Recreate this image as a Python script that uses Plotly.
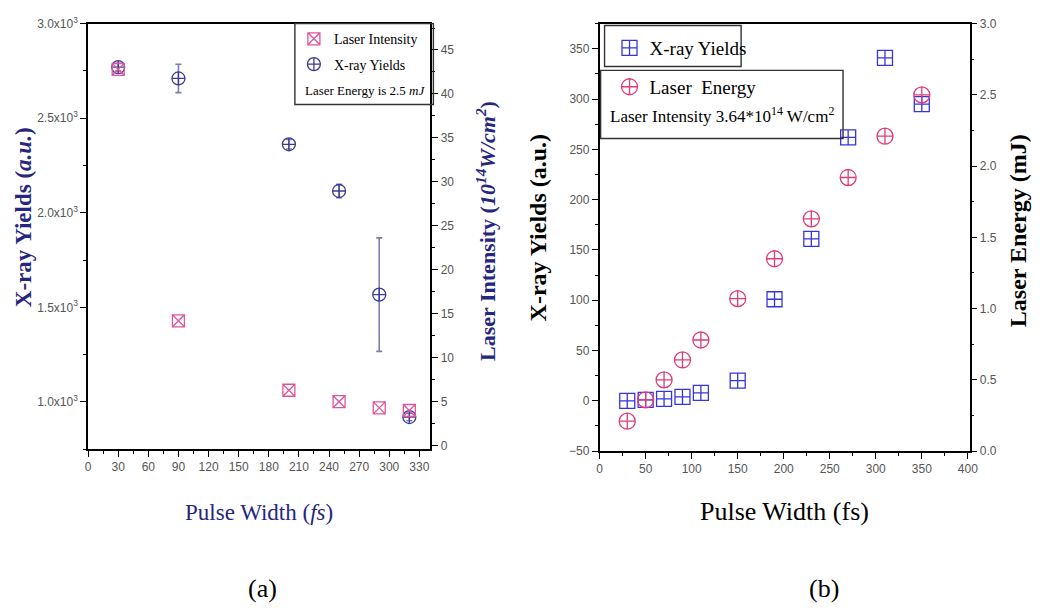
import plotly.graph_objects as go

# ---------------- data ----------------
# panel (a)
pulse_a = [30, 90, 200, 250, 290, 320]
xray_a = [2770, 2710, 2362, 2115, 1567, 920]
xray_a_err = [20, 75, 25, 35, 300, 20]
intensity_a = [42.8, 14.2, 6.3, 5.0, 4.3, 4.0]
xticks_a = list(range(0, 331, 30))
yticks_a = [1000, 1500, 2000, 2500, 3000]
yticktext_a = ["1.0x10<sup>3</sup>", "1.5x10<sup>3</sup>", "2.0x10<sup>3</sup>",
               "2.5x10<sup>3</sup>", "3.0x10<sup>3</sup>"]

# panel (b)
pulse_b = [30, 50, 70, 90, 110, 150, 190, 230, 270, 310, 350]
xray_b = [0, 1, 2, 4, 8, 20, 101, 161, 262, 341, 295]
energy_b = [0.21, 0.36, 0.50, 0.64, 0.78, 1.07, 1.35, 1.63, 1.92, 2.21, 2.50]

W, H = 1040, 612
def px(x):
    return x / W
def py(y):
    return 1 - y / H

SERIF = "Liberation Serif, Times New Roman, serif"
NARROW = "Liberation Sans Narrow, Arial Narrow, Liberation Sans, sans-serif"
NAVY = "#26267e"
PINK_A = "#e0559c"
BLUE_A = "#3d3d95"
BLUE_B = "#3535e0"
PINK_B = "#e03c7c"
TICKFONT = dict(family=NARROW, size=12, color="#555555")

fig = go.Figure()

# panel (a) traces
fig.add_trace(go.Scatter(
    x=pulse_a, y=intensity_a, mode="markers", name="Laser Intensity",
    marker=dict(symbol="square-x-open", size=12, color=PINK_A, line=dict(width=1.3)),
    xaxis="x", yaxis="y2", legend="legend"))
fig.add_trace(go.Scatter(
    x=pulse_a, y=xray_a, mode="markers", name="X-ray Yields",
    error_y=dict(type="data", array=xray_a_err, color="#7c7cab", thickness=1.6, width=3),
    marker=dict(symbol="circle-cross-open", size=13, color=BLUE_A, line=dict(width=1.3)),
    xaxis="x", yaxis="y", legend="legend2"))

# panel (b) traces
fig.add_trace(go.Scatter(
    x=pulse_b, y=xray_b, mode="markers", name="X-ray Yields",
    marker=dict(symbol="square-cross-open", size=15, color=BLUE_B, line=dict(width=1.3)),
    xaxis="x2", yaxis="y3", legend="legend3"))
fig.add_trace(go.Scatter(
    x=pulse_b, y=energy_b, mode="markers", name="Laser  Energy",
    marker=dict(symbol="circle-cross-open", size=16, color=PINK_B, line=dict(width=1.3)),
    xaxis="x2", yaxis="y4", legend="legend4"))

axline = dict(showline=True, linecolor="black", linewidth=1.6, showgrid=False,
              zeroline=False, tickcolor="black", tickwidth=1.4, tickfont=TICKFONT)

dom_a_x = [px(86), px(432)]
dom_a_y = [py(452), py(15)]
dom_b_x = [px(603), px(977)]
dom_b_y = [py(454), py(15)]

leg_common = dict(bgcolor="rgba(0,0,0,0)", borderwidth=0, xanchor="left",
                  yanchor="middle", itemsizing="trace")

fig.update_layout(
    width=W, height=H, margin=dict(l=0, r=0, t=0, b=0),
    paper_bgcolor="white", plot_bgcolor="white",
    xaxis=dict(domain=dom_a_x, anchor="y", range=[0, 341], tickmode="array",
               tickvals=xticks_a, ticks="outside", ticklen=6,
               minor=dict(dtick=15, tick0=0, ticks="outside", ticklen=3, tickcolor="black"),
               mirror=True, **axline),
    xaxis3=dict(domain=dom_a_x, anchor="y", overlaying="x", side="top", range=[0, 341],
                tickmode="linear", tick0=0, dtick=30, ticks="inside", ticklen=6,
                showticklabels=False, showline=False, showgrid=False, zeroline=False,
                tickcolor="black", tickwidth=1.4),
    yaxis=dict(domain=dom_a_y, anchor="x", range=[750, 3000], tickmode="array",
               tickvals=yticks_a, ticktext=yticktext_a, ticks="outside", ticklen=6,
               minor=dict(dtick=250, tick0=0, ticks="outside", ticklen=3, tickcolor="black"),
               **axline),
    yaxis2=dict(anchor="x", overlaying="y", side="right", range=[-0.4, 48],
                tickmode="linear", tick0=0, dtick=5, ticks="outside", ticklen=6,
                minor=dict(dtick=2.5, tick0=0, ticks="outside", ticklen=3, tickcolor="black"),
                **axline),
    xaxis2=dict(domain=dom_b_x, anchor="y3", range=[0, 402], tickmode="linear",
                tick0=0, dtick=50, ticks="outside", ticklen=6,
                minor=dict(dtick=25, tick0=0, ticks="outside", ticklen=3, tickcolor="black"),
                mirror=True, **axline),
    xaxis4=dict(domain=dom_b_x, anchor="y3", overlaying="x2", side="top", range=[0, 402],
                tickmode="linear", tick0=0, dtick=50, ticks="inside", ticklen=6,
                showticklabels=False, showline=False, showgrid=False, zeroline=False,
                tickcolor="black", tickwidth=1.4),
    yaxis3=dict(domain=dom_b_y, anchor="x2", range=[-50, 375], tickmode="linear",
                tick0=0, dtick=50, ticks="outside", ticklen=6,
                minor=dict(dtick=25, tick0=0, ticks="outside", ticklen=3, tickcolor="black"),
                **axline),
    yaxis4=dict(anchor="x2", overlaying="y3", side="right", range=[0, 3.0],
                tickmode="linear", tick0=0, dtick=0.5, tickformat=".1f", ticks="outside",
                ticklen=6,
                minor=dict(dtick=0.25, tick0=0, ticks="outside", ticklen=3, tickcolor="black"),
                **axline),
    legend=dict(x=px(294), y=py(31), font=dict(family=SERIF, size=14, color="black"), **leg_common),
    legend2=dict(x=px(294), y=py(57), font=dict(family=SERIF, size=14, color="black"), **leg_common),
    legend3=dict(x=px(613), y=py(40), font=dict(family=SERIF, size=19, color="black"), **leg_common),
    legend4=dict(x=px(613), y=py(80), font=dict(family=SERIF, size=19, color="black"), **leg_common),
    showlegend=True,
)

# legend boxes
for x0, y0, x1, y1 in [(295, 15, 435, 98), (608, 17, 746, 59), (604, 63, 849, 133)]:
    fig.add_shape(type="rect", xref="paper", yref="paper",
                  x0=px(x0), x1=px(x1), y0=py(y1), y1=py(y0),
                  line=dict(color="#333333", width=1.4), fillcolor="rgba(0,0,0,0)")

ann = []
# legend extra texts
ann.append(dict(text="Laser Energy is 2.5 <i>mJ</i>", x=px(366), y=py(84),
                font=dict(family=SERIF, size=13, color="black")))
ann.append(dict(text="Laser Intensity 3.64*10<sup>14</sup> W/cm<sup>2</sup>", x=px(727), y=py(109),
                font=dict(family=SERIF, size=17, color="black")))
# axis titles panel (a)
ann.append(dict(text="<b>X-ray Yields (<i>a.u.</i>)</b>", x=px(21), y=py(214), textangle=-90,
                font=dict(family=SERIF, size=23, color=NAVY)))
ann.append(dict(text="<b>Laser Intensity (<i>10<sup>14</sup>W/cm<sup>2</sup></i>)</b>", x=px(488), y=py(228),
                textangle=-90, font=dict(family=SERIF, size=22, color=NAVY)))
ann.append(dict(text="Pulse Width (<i>fs</i>)", x=px(259), y=py(517),
                font=dict(family=SERIF, size=23, color=NAVY)))
# axis titles panel (b)
ann.append(dict(text="<b>X-ray Yields (a.u.)</b>", x=px(541), y=py(224), textangle=-90,
                font=dict(family=SERIF, size=24, color="black")))
ann.append(dict(text="<b>Laser Energy (mJ)</b>", x=px(1026), y=py(228), textangle=-90,
                font=dict(family=SERIF, size=24, color="black")))
ann.append(dict(text="Pulse Width (fs)", x=px(790), y=py(516),
                font=dict(family=SERIF, size=26, color="black")))
# panel labels
ann.append(dict(text="(a)", x=px(262), y=py(595), font=dict(family=SERIF, size=26, color="black")))
ann.append(dict(text="(b)", x=px(830), y=py(595), font=dict(family=SERIF, size=26, color="black")))

for a in ann:
    a.update(xref="paper", yref="paper", showarrow=False, xanchor="center", yanchor="middle")
    fig.add_annotation(**a)

fig.write_html("out.html")
